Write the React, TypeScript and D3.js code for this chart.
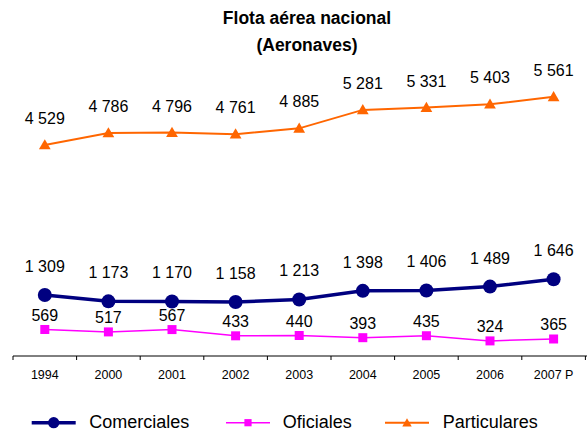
import React from "react";
import * as d3 from "d3";

const categories = ["1994", "2000", "2001", "2002", "2003", "2004", "2005", "2006", "2007 P"];
const comerciales = [1309, 1173, 1170, 1158, 1213, 1398, 1406, 1489, 1646];
const oficiales = [569, 517, 567, 433, 440, 393, 435, 324, 365];
const particulares = [4529, 4786, 4796, 4761, 4885, 5281, 5331, 5403, 5561];
const seriesNames = ["Comerciales", "Oficiales", "Particulares"];
const titleLines = ["Flota aérea nacional", "(Aeronaves)"];

const W = 587;
const H = 433;
const FONT = "'Liberation Sans', Arial, sans-serif";

const fmt = (v: number) => {
  const s = String(v);
  return s.length > 3 ? s.slice(0, s.length - 3) + " " + s.slice(-3) : s;
};

export default function App() {
  const x = d3.scaleBand<string>().domain(categories).range([13, 585.4]);
  const y = d3.scaleLinear().domain([0, 6000]).range([356, 76.4]);
  const cx = (c: string) => (x(c) as number) + x.bandwidth() / 2;
  const line = d3
    .line<number>()
    .x((_, i) => cx(categories[i]))
    .y((d) => y(d));

  const ticks = categories.map((c) => x(c) as number).concat([x.range()[1]]);
  const tri = d3.symbol().type(d3.symbolTriangle).size(60)() as string;

  const series = [
    { name: seriesNames[0], data: comerciales, color: "#000080", width: 3.5, marker: "circle", dy: -23 },
    { name: seriesNames[1], data: oficiales, color: "#FF00FF", width: 1.5, marker: "square", dy: -8.5 },
    { name: seriesNames[2], data: particulares, color: "#FF6600", width: 2, marker: "triangle", dy: -21 },
  ];

  const marker = (kind: string, px: number, py: number, color: string, scale = 1, key?: any) => {
    if (kind === "circle") return <circle key={key} cx={px} cy={py} r={7 * scale} fill={color} />;
    if (kind === "square")
      return <rect key={key} x={px - 4.5 * scale} y={py - 4.5 * scale} width={9 * scale} height={9 * scale} fill={color} />;
    return <path key={key} d={tri} transform={`translate(${px},${py + 1}) scale(${scale})`} fill={color} />;
  };

  const legendItems = [
    { lx: 31.7, tx: 89.3 },
    { lx: 226, tx: 282.7 },
    { lx: 385, tx: 442.7 },
  ];

  return (
    <svg width={W} height={H} style={{ position: "absolute", left: 0, top: 0, background: "#fff" }} fontFamily={FONT}>
      <rect width={W} height={H} fill="#fff" />
      {titleLines.map((t, i) => (
        <text key={t} x={307} y={24 + i * 27} textAnchor="middle" fontWeight="bold" fontSize={17.5} fill="#000">
          {t}
        </text>
      ))}
      {/* axis */}
      <line x1={13} x2={W} y1={356} y2={356} stroke="#000" strokeWidth={1} />
      {ticks.map((t, i) => (
        <line key={i} x1={t} x2={t} y1={356} y2={360} stroke="#000" strokeWidth={1} />
      ))}
      {categories.map((c) => (
        <text key={c} x={cx(c)} y={379} textAnchor="middle" fontSize={12.5} fill="#000">
          {c}
        </text>
      ))}
      {series.map((s) => (
        <g key={s.name}>
          <path d={line(s.data) as string} fill="none" stroke={s.color} strokeWidth={s.width} />
          {s.data.map((v, i) => marker(s.marker, cx(categories[i]), y(v), s.color, 1, i))}
          {s.data.map((v, i) => (
            <text key={"l" + i} x={cx(categories[i])} y={y(v) + s.dy} textAnchor="middle" fontSize={16} fill="#000">
              {fmt(v)}
            </text>
          ))}
        </g>
      ))}
      {/* legend */}
      {series.map((s, i) => {
        const it = legendItems[i];
        const ly = 422.7;
        return (
          <g key={"leg" + i}>
            <line x1={it.lx} x2={it.lx + 44} y1={ly} y2={ly} stroke={s.color} strokeWidth={s.width} />
            {marker(s.marker, it.lx + 22, ly, s.color, 0.8)}
            <text x={it.tx} y={428} fontSize={18} fill="#000">
              {s.name}
            </text>
          </g>
        );
      })}
    </svg>
  );
}
